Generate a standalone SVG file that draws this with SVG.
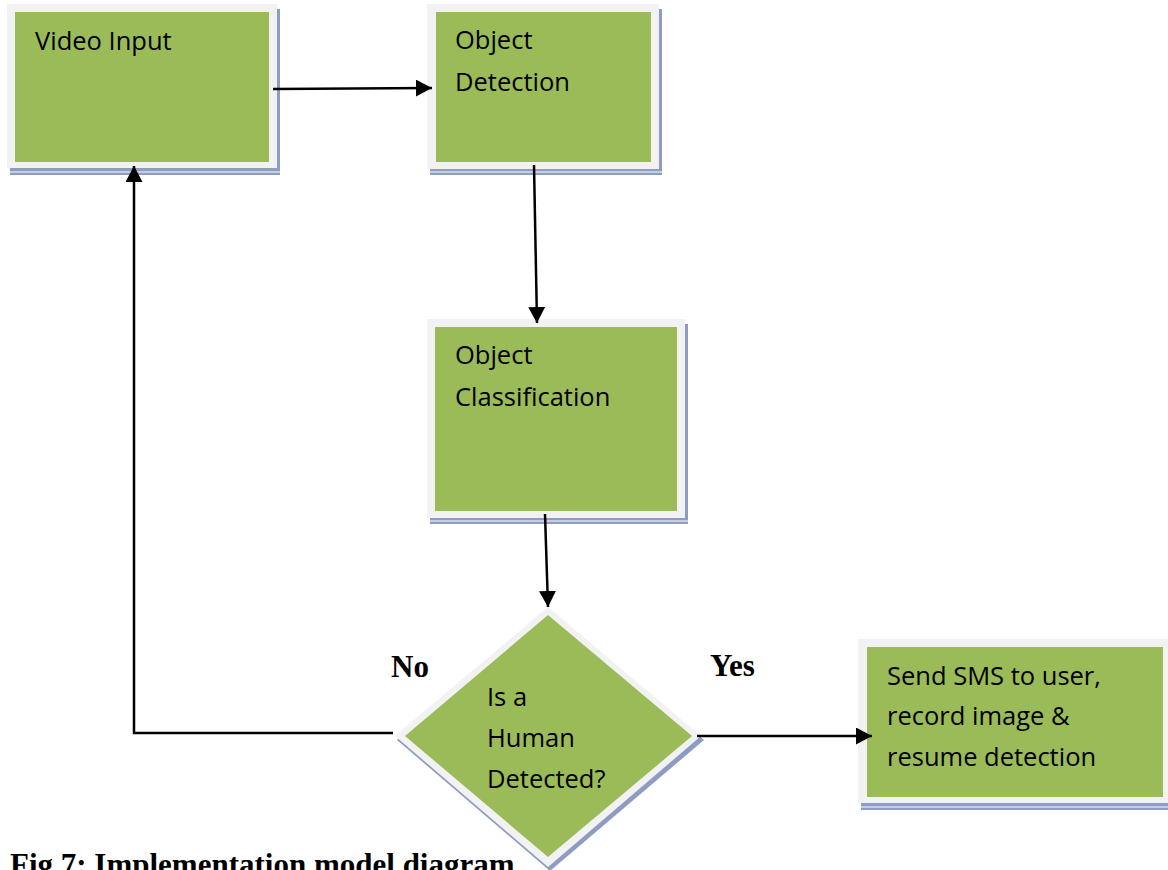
<svg xmlns="http://www.w3.org/2000/svg" width="1168" height="870" viewBox="0 0 1168 870">
  <style>
    .shadow { fill: #8e9cc2; }
    .gap { stroke: #ffffff; stroke-width: 1; fill: none; }
    .frame { fill: #f2f2f2; }
    .body { fill: #9bbb59; }
    .label { font-family: "Open Sans", "Noto Sans", sans-serif; font-size: 25.5px; fill: #000000; }
    .bold { font-family: "Liberation Serif", "Times New Roman", serif; font-weight: bold; font-size: 31px; fill: #000000; }
    .edge { stroke: #000000; stroke-width: 2.5; fill: none; }
  </style>
  <defs>
    <marker id="arrow" viewBox="0 0 16 17" refX="16" refY="8.5" markerWidth="16" markerHeight="17" markerUnits="userSpaceOnUse" orient="auto">
      <path d="M0,0 L16,8.5 L0,17 Z" fill="#000000"/>
    </marker>
  </defs>
  <rect width="1168" height="870" fill="#ffffff"/>

  <!-- process boxes -->
  <g id="video-input">
    <rect class="shadow" x="10" y="9" width="270" height="166"/>
    <line class="gap" x1="10" y1="172" x2="280" y2="172"/>
    <rect class="frame" x="7" y="4" width="270" height="164"/>
    <rect class="body" x="15" y="12" width="254" height="150"/>
    <text class="label" x="35" y="50">Video Input</text>
  </g>

  <g id="object-detection">
    <rect class="shadow" x="430" y="9" width="232" height="166"/>
    <line class="gap" x1="430" y1="172" x2="662" y2="172"/>
    <rect class="frame" x="427" y="4" width="232" height="165"/>
    <rect class="body" x="436" y="12" width="215" height="150"/>
    <text class="label" x="455" y="49">Object</text>
    <text class="label" x="455" y="91">Detection</text>
  </g>

  <g id="object-classification">
    <rect class="shadow" x="430" y="324" width="258" height="200"/>
    <line class="gap" x1="430" y1="521" x2="688" y2="521"/>
    <rect class="frame" x="427" y="319" width="258" height="199"/>
    <rect class="body" x="435" y="327" width="242" height="184"/>
    <text class="label" x="455" y="364">Object</text>
    <text class="label" x="455" y="406">Classification</text>
  </g>

  <g id="human-detected">
    <polygon class="shadow" points="550,611 704,740 550,871 397,740"/>
    <polygon class="frame" points="548,607 701,736 548,867 395,736"/>
    <polygon class="body" points="548,615 692,736 548,857 405,736"/>
    <text class="label" x="487" y="706">Is a</text>
    <text class="label" x="487" y="747">Human</text>
    <text class="label" x="487" y="788">Detected?</text>
  </g>

  <g id="send-sms">
    <rect class="shadow" x="861" y="644" width="312" height="166"/>
    <line class="gap" x1="861" y1="807" x2="1173" y2="807"/>
    <rect class="frame" x="858" y="639" width="312" height="164"/>
    <rect class="body" x="867" y="647" width="296" height="150"/>
    <text class="label" x="887" y="685">Send SMS to user,</text>
    <text class="label" x="887" y="725">record image &amp;</text>
    <text class="label" x="887" y="766">resume detection</text>
  </g>

  <!-- connectors -->
  <g id="connectors">
    <line class="edge" x1="273" y1="89" x2="432" y2="88" marker-end="url(#arrow)"/>
    <line class="edge" x1="534" y1="165" x2="537" y2="323" marker-end="url(#arrow)"/>
    <line class="edge" x1="545" y1="514" x2="548" y2="607" marker-end="url(#arrow)"/>
    <line class="edge" x1="697" y1="736" x2="872" y2="736" marker-end="url(#arrow)"/>
    <polyline class="edge" points="393,733 134,733 134,166" marker-end="url(#arrow)"/>
  </g>

  <!-- branch labels and caption -->
  <text class="bold" x="391" y="677">No</text>
  <text class="bold" x="710" y="676">Yes</text>
  <text class="bold" x="10" y="875" font-size="32.8">Fig 7: Implementation model diagram</text>
</svg>
